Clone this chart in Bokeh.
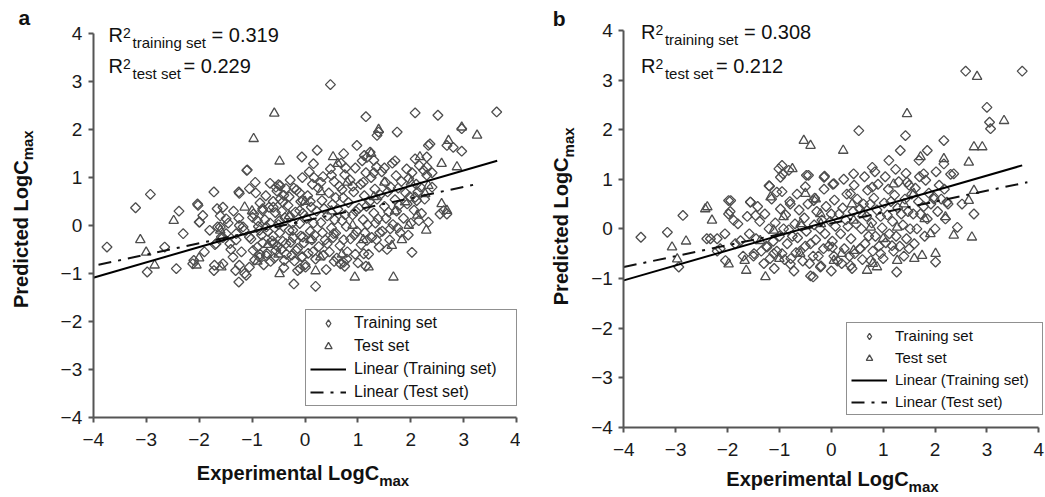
import math
from bokeh.plotting import figure
from bokeh.models import Range1d, Label, Legend, LegendItem
from bokeh.layouts import row
from bokeh.embed import file_html
from bokeh.resources import INLINE

FONT = "Liberation Sans"
ticks = [-4, -3, -2, -1, 0, 1, 2, 3, 4]
tick_labels = ["\u22124", "\u22123", "\u22122", "\u22121", "0", "1", "2", "3", "4"]

series_names = ["Training set", "Test set", "Linear (Training set)", "Linear (Test set)"]
r2_a = ["0.319", "0.229"]
r2_b = ["0.308", "0.212"]

# ---------------- panel a data (experimental, predicted) ----------------
a_train = [
    (-3.74, -0.45), (-3.2, 0.37), (-2.92, 0.65), (-2.98, -0.97), (-2.43, -0.9), (-2.38, 0.3),
    (-2.3, -0.17), (-2.03, 0.45), (-2.0, 0.07), (-2.1, -0.73), (-1.72, 0.7), (-1.66, 0.35),
    (-1.72, -0.94), (-1.6, -0.03), (-1.55, -0.8), (-1.25, 0.7), (-1.31, -0.94), (-1.25, -1.18),
    (-1.1, 1.15), (-0.94, 0.9), (-1.11, -1.04), (-0.47, 0.83), (-0.21, 0.78), (-0.06, 1.43),
    (0.23, 1.57), (0.16, 1.29), (0.48, 2.94), (-0.21, -1.22), (0.2, -1.27), (0.98, 1.67),
    (1.15, 2.27), (1.12, 1.46), (1.39, 1.95), (1.74, 1.95), (2.08, 2.35), (2.51, 2.3),
    (3.62, 2.37), (2.96, 2.02), (2.96, 1.55), (2.02, -0.56), (1.41, -0.15), (1.61, -0.07),
    (2.3, 1.22), (2.68, 0.24), (2.62, 0.31), (2.8, 1.63), (2.36, 1.7), (2.3, 1.43),
    (2.11, 0.52), (2.4, 0.8), (0.79, -0.7), (1.11, -0.59), (1.17, -0.31), (0.42, -0.38),
    (0.67, -0.8), (-0.06, -0.66), (-0.09, -0.9), (0.01, -0.87), (0.54, -0.17),
    (-1.09, 1.16), (-1.05, 0.77), (-1.24, 0.67), (-2.02, 0.42), (-1.93, 0.21), (-1.55, 0.38),
    (-1.99, 0.07), (-2.65, -0.45), (-2.12, -0.8), (-1.68, -0.38), (-1.71, -0.83), (-1.24, -0.83),
    (-1.14, -1.0), (-1.36, -0.66), (-0.98, -0.52), (-0.6, -0.38), (-0.39, -0.73), (-0.14, -0.94),
    (-0.55, 0.8), (-0.36, 0.77), (-0.42, 0.49), (1.36, 1.88), (2.68, 1.67), (2.33, 1.67),
    (0.73, 1.5), (1.23, 1.53), (1.3, 1.36), (2.08, 1.39), (0.73, -0.77), (2.33, 0.07),
    (2.55, 0.24), (2.08, 0.59), (2.24, 1.15), (2.4, 1.1),
    (-0.6, 0.38), (-0.8, 0.31), (-0.99, 0.17), (-1.17, -0.03), (-1.3, -0.17), (-1.49, -0.17),
    (-1.65, -0.03), (-1.58, -0.24), (-1.42, -0.38), (-1.05, -0.24), (-0.86, -0.1), (-0.73, -0.03),
    (-0.48, 0.1), (-0.29, 0.17), (-0.1, 0.31), (-0.04, 0.52), (-0.23, -0.1), (-0.04, -0.24),
    (-0.36, -0.38), (-0.17, -0.52), (-0.73, -0.63), (-0.55, -0.52), (-0.86, -0.66), (-1.05, -0.87),
    (-1.24, 0.0), (-1.49, 0.14),
    (-0.95, -0.72), (-0.9, -0.45), (-1.02, -0.28), (-0.88, -0.02), (-0.97, 0.24), (-0.85, 0.47),
    (-0.93, 0.68), (-0.78, -0.82), (-0.72, -0.58), (-0.8, -0.36), (-0.7, -0.12), (-0.76, 0.12),
    (-0.68, 0.38), (-0.74, 0.62), (-0.66, 0.88), (-0.58, -0.68), (-0.52, -0.44), (-0.6, -0.22),
    (-0.5, 0.02), (-0.56, 0.27), (-0.47, 0.55), (-0.53, 0.72), (-0.4, -0.88), (-0.35, -0.6),
    (-0.42, -0.33), (-0.3, -0.1), (-0.38, 0.16), (-0.32, 0.42), (-0.4, 0.63), (-0.28, 0.95),
    (-0.2, -0.74), (-0.14, -0.48), (-0.22, -0.25), (-0.1, 0.04), (-0.18, 0.28), (-0.08, 0.5),
    (-0.16, 0.74), (-0.05, 1.0), (0.0, -0.82), (0.06, -0.58), (-0.02, -0.36), (0.1, -0.12),
    (0.03, 0.15), (0.12, 0.38), (0.05, 0.62), (0.14, 0.86), (0.08, 1.12), (0.2, -0.7),
    (0.26, -0.44), (0.18, -0.2), (0.3, 0.06), (0.22, 0.3), (0.32, 0.52), (0.25, 0.78),
    (0.34, 1.02), (0.4, -0.92), (0.46, -0.55), (0.38, -0.3), (0.5, -0.05), (0.42, 0.2),
    (0.52, 0.44), (0.45, 0.68), (0.55, 0.92), (0.48, 1.18), (0.6, -0.68), (0.66, -0.42),
    (0.58, -0.16), (0.7, 0.1), (0.62, 0.34), (0.72, 0.58), (0.65, 0.82), (0.75, 1.06),
    (0.68, 1.3), (0.8, -0.55), (0.86, -0.28), (0.78, -0.02), (0.9, 0.22), (0.82, 0.48),
    (0.92, 0.7), (0.85, 0.95), (0.95, 1.2), (1.0, -0.78), (1.06, -0.4), (0.98, -0.12),
    (1.1, 0.12), (1.02, 0.36), (1.12, 0.62), (1.05, 0.86), (1.15, 1.1), (1.08, 1.35),
    (1.2, -0.6), (1.26, -0.25), (1.18, 0.02), (1.3, 0.26), (1.22, 0.5), (1.32, 0.76),
    (1.25, 1.0), (1.35, 1.22), (1.4, -0.45), (1.46, -0.12), (1.38, 0.14), (1.5, 0.4),
    (1.42, 0.64), (1.52, 0.9), (1.45, 1.12), (1.6, -0.3), (1.66, 0.02), (1.58, 0.28),
    (1.7, 0.54), (1.62, 0.8), (1.72, 1.04), (1.65, 1.3), (1.8, -0.15), (1.86, 0.15),
    (1.78, 0.42), (1.9, 0.68), (1.82, 0.92), (1.92, 1.18), (2.0, 0.05), (2.06, 0.32),
    (1.98, 0.6), (2.1, 0.86), (2.02, 1.1), (2.2, 0.25), (2.26, 0.55), (2.18, 0.8), (2.3, 1.05),
    (-1.2, -0.55), (-1.3, -0.3), (-1.15, -0.1), (-1.25, 0.15), (-1.4, -0.5), (-1.45, 0.05),
    (-1.35, 0.3), (-1.55, -0.25), (-1.6, 0.2), (-1.7, -0.4), (-1.8, -0.1), (-1.9, -0.55),
    (-0.85, -0.6), (-0.82, -0.2), (-0.9, 0.1), (-0.8, 0.35), (-0.65, -0.75), (-0.62, -0.32),
    (-0.66, 0.05), (-0.6, 0.5), (-0.45, -0.5), (-0.48, -0.15), (-0.44, 0.3), (-0.5, 0.85),
    (-0.25, -0.62), (-0.27, -0.35), (-0.24, 0.05), (-0.3, 0.6), (-0.05, -0.65), (-0.08, -0.22),
    (-0.04, 0.25), (-0.1, 0.68), (0.15, -0.55), (0.13, -0.3), (0.16, 0.05), (0.1, 0.5),
    (0.17, 1.0), (0.35, -0.62), (0.33, -0.15), (0.36, 0.35), (0.3, 0.9), (0.55, -0.75),
    (0.53, -0.25), (0.56, 0.12), (0.58, 0.58), (0.5, 1.05), (0.75, -0.85), (0.73, -0.3),
    (0.76, 0.22), (0.7, 0.75), (0.77, 1.2), (0.95, -0.6), (0.93, -0.2), (0.96, 0.3),
    (0.9, 0.82), (1.15, -0.85), (1.13, -0.15), (1.16, 0.4), (1.1, 0.9), (1.17, 1.42),
    (1.35, -0.3), (1.33, 0.05), (1.36, 0.55), (1.3, 1.1), (1.55, -0.5), (1.53, 0.15),
    (1.56, 0.7), (1.5, 1.2), (1.75, -0.05), (1.73, 0.3), (1.76, 0.78), (1.7, 1.35),
    (1.95, -0.2), (1.93, 0.45), (1.96, 0.98), (2.15, 0.1), (2.13, 0.7), (2.16, 1.25),
]
a_test = [
    (-3.11, -0.3), (-3.0, -0.56), (-2.84, -0.83), (-2.48, 0.1), (-2.05, -0.83), (-2.0, -0.68),
    (-1.6, -0.1), (-1.58, -0.87), (-0.97, 1.81), (-0.58, 2.34), (-0.48, 1.34), (-0.48, -1.01),
    (0.29, -0.66), (0.53, 1.43), (0.62, 1.29), (0.94, -1.08), (1.2, -0.87), (1.25, 1.5),
    (1.39, 2.0), (1.67, -1.08), (1.64, -0.42), (1.83, -0.3), (1.89, 0.49), (1.96, 0.0),
    (2.12, 0.21), (2.29, -0.1), (2.33, 0.83), (2.58, 1.29), (2.58, 0.45), (2.68, 0.31),
    (2.71, 1.77), (2.87, 1.22), (2.96, 2.05), (3.25, 1.88), (2.17, 1.43), (2.27, 0.66),
    (-1.14, 0.38), (-0.3, 0.2), (0.1, -0.3), (0.5, 0.3), (0.9, 0.0), (1.3, 0.6), (1.7, 0.3),
    (-0.7, -0.4), (0.3, 0.7), (0.7, -0.6), (1.1, -0.3), (1.5, 0.9), (-1.0, 0.3), (0.0, 0.5),
    (0.8, 0.9), (-0.5, -0.6), (2.0, 0.9), (-0.9, -0.75), (0.2, -0.95),
]
a_fit_train_x = [-4.0, 3.63]
a_fit_train_y = [-1.09, 1.35]
a_fit_test_x = [-3.9, 3.27]
a_fit_test_y = [-0.82, 0.87]

# ---------------- panel b data ----------------
b_train = [
    (-3.67, -0.17), (-3.16, -0.07), (-2.86, 0.27), (-2.94, -0.77), (-2.33, -0.2), (-1.98, 0.57),
    (-1.98, 0.3), (-1.88, 0.17), (-2.04, -0.64), (-1.56, 0.54), (-1.46, 0.27), (-1.2, 0.87),
    (-0.98, 1.04), (-0.95, 1.28), (-0.82, 1.18), (-0.48, 1.08), (-0.79, 0.5), (-0.34, 0.57),
    (-0.14, 1.04), (0.05, 0.91), (-0.35, -0.97), (0.53, 1.98), (1.43, 1.88), (2.17, 1.78),
    (2.59, 3.18), (3.68, 3.18), (3.0, 2.45), (3.05, 2.15), (3.07, 2.02), (2.75, 0.3),
    (2.43, 0.03), (2.01, -0.67), (1.26, -0.87), (1.17, -0.34), (1.5, -0.4), (1.85, 1.58),
    (1.69, 1.38), (1.33, 1.58), (1.11, 1.38), (0.79, 1.24), (0.43, 1.11), (1.78, 1.11),
    (2.17, 1.31), (2.36, 1.11), (0.37, 0.71), (0.79, 0.84), (1.46, 0.94), (1.98, 0.64),
    (2.23, 0.54), (2.52, 0.5), (-0.21, -0.77), (0.37, -0.74), (0.95, -0.5), (0.76, -0.64),
    (0.56, -0.4), (0.02, -0.37), (-0.79, -0.71), (-1.11, -0.5), (-1.24, -0.37), (-1.49, -0.5),
    (-1.75, -0.24), (-2.2, -0.2), (-2.14, -0.4), (-1.01, 1.21), (-0.93, 1.11), (-0.44, 1.08),
    (-0.13, 1.06), (-1.19, 0.86), (-1.05, 0.74), (-1.94, 0.57), (-1.56, 0.54),
    (-1.5, -0.55), (-1.45, -0.2), (-1.38, 0.15), (-1.42, 0.45), (-1.3, -0.7), (-1.25, -0.35),
    (-1.2, 0.0), (-1.28, 0.3), (-1.15, 0.6), (-1.1, -0.8), (-1.05, -0.45), (-1.0, -0.15),
    (-1.08, 0.12), (-0.98, 0.4), (-0.95, 0.75), (-0.9, -0.62), (-0.85, -0.3), (-0.82, -0.02),
    (-0.88, 0.28), (-0.8, 0.55), (-0.72, -0.85), (-0.68, -0.48), (-0.65, -0.18), (-0.7, 0.1),
    (-0.62, 0.38), (-0.66, 0.7), (-0.55, -0.65), (-0.5, -0.35), (-0.48, -0.05), (-0.52, 0.22),
    (-0.45, 0.5), (-0.5, 0.85), (-0.4, -0.95), (-0.35, -0.55), (-0.3, -0.22), (-0.33, 0.08),
    (-0.28, 0.35), (-0.32, 0.62), (-0.2, -0.75), (-0.15, -0.4), (-0.12, -0.1), (-0.18, 0.18),
    (-0.1, 0.45), (-0.14, 0.8), (0.0, -0.85), (0.05, -0.55), (0.02, -0.25), (0.08, 0.05),
    (0.0, 0.3), (0.06, 0.58), (0.03, 0.9), (0.2, -0.7), (0.25, -0.4), (0.18, -0.1),
    (0.28, 0.18), (0.22, 0.42), (0.3, 0.7), (0.24, 1.0), (0.4, -0.8), (0.45, -0.5),
    (0.38, -0.2), (0.48, 0.1), (0.42, 0.35), (0.5, 0.6), (0.44, 0.88), (0.6, -0.62),
    (0.65, -0.3), (0.58, 0.0), (0.68, 0.25), (0.62, 0.5), (0.7, 0.78), (0.64, 1.05),
    (0.8, -0.45), (0.85, -0.15), (0.78, 0.12), (0.88, 0.38), (0.82, 0.62), (0.9, 0.9),
    (0.84, 1.15), (1.0, -0.6), (1.05, -0.28), (0.98, 0.02), (1.08, 0.28), (1.02, 0.52),
    (1.1, 0.8), (1.04, 1.05), (1.2, -0.45), (1.25, -0.15), (1.18, 0.15), (1.28, 0.42),
    (1.22, 0.68), (1.3, 0.95), (1.24, 1.2), (1.4, -0.55), (1.45, -0.2), (1.38, 0.08),
    (1.48, 0.35), (1.42, 0.6), (1.5, 0.88), (1.44, 1.12), (1.6, -0.3), (1.65, 0.0),
    (1.58, 0.3), (1.68, 0.55), (1.62, 0.82), (1.7, 1.05), (1.8, -0.15), (1.85, 0.2),
    (1.78, 0.45), (1.88, 0.72), (1.82, 0.98), (2.0, 0.0), (2.05, 0.35), (1.98, 0.6),
    (2.08, 0.88), (2.02, 1.15), (2.2, 0.2), (2.25, 0.5), (2.18, 0.8), (2.3, 1.1),
    (-1.35, -0.45), (-1.18, -0.6), (-1.12, -0.25), (-0.95, -0.5), (-0.92, 0.0), (-0.78, -0.6),
    (-0.75, -0.15), (-0.6, -0.45), (-0.58, 0.05), (-0.42, -0.7), (-0.4, -0.3), (-0.25, -0.55),
    (-0.22, 0.0), (-0.05, -0.35), (-0.02, 0.15), (0.12, -0.65), (0.15, 0.3), (0.35, -0.55),
    (0.32, 0.05), (0.55, -0.4), (0.55, 0.4), (0.72, -0.15), (0.75, 0.5), (0.92, -0.35),
    (0.95, 0.25), (1.12, -0.1), (1.15, 0.55), (1.32, -0.35), (1.35, 0.3), (1.52, 0.0),
    (1.55, 0.7), (1.72, 0.3), (1.92, 0.5), (2.12, 0.6), (-2.4, -0.2), (-2.2, -0.45),
    (-2.05, -0.1), (-1.95, 0.35), (-1.85, -0.3), (-1.8, 0.1), (-1.7, -0.55), (-1.62, 0.25),
    (-1.58, -0.1),
]
b_test = [
    (-3.07, -0.37), (-2.8, -0.25), (-2.97, -0.61), (-2.43, 0.4), (-2.3, 0.17), (-1.98, -0.71),
    (-1.67, -0.64), (-1.64, -0.84), (-1.27, -0.97), (-0.75, 1.21), (-0.53, 1.78), (-0.4, 1.68),
    (-0.5, 0.71), (0.23, 1.58), (1.46, 2.32), (1.72, 1.45), (2.17, 1.41), (2.65, 1.34),
    (2.81, 3.07), (3.33, 2.18), (2.75, 1.65), (2.91, 1.65), (2.75, 0.77), (2.65, 0.57),
    (2.36, -0.13), (2.71, -0.17), (2.2, 0.24), (2.01, -0.5), (1.75, -0.54), (1.27, -0.64),
    (0.88, -0.77), (0.69, -0.84), (0.05, -0.64), (0.43, -0.44), (1.91, -0.1), (1.27, 0.03),
    (0.76, 0.03), (1.59, 0.71), (-0.92, 0.24), (-1.37, -0.24), (-1.11, -0.03), (-0.59, 0.1),
    (-0.21, 0.3), (0.43, 0.17), (-2.39, 0.44), (-1.17, 0.64),
    (-0.6, -0.5), (-0.2, 0.1), (0.2, -0.5), (0.6, 0.3), (1.0, -0.2), (1.4, 0.5), (1.8, 0.2),
    (-1.0, -0.6), (0.4, 0.5), (0.8, -0.7), (1.2, 0.9), (-0.3, 0.6), (1.6, -0.6),
]
b_fit_train_x = [-4.0, 3.68]
b_fit_train_y = [-1.04, 1.28]
b_fit_test_x = [-4.0, 3.78]
b_fit_test_y = [-0.77, 0.94]


def make_panel(letter, train, test, ftx, fty, fsx, fsy, r2, cfg):
    p = figure(width=cfg["w"], height=cfg["h"],
               x_range=Range1d(*cfg["xr"]), y_range=Range1d(*cfg["yr"]),
               toolbar_location=None, output_backend="svg",
               min_border_left=0, min_border_right=0, min_border_top=0, min_border_bottom=0)
    p.outline_line_color = None
    p.xgrid.visible = False
    p.ygrid.visible = False
    p.background_fill_color = "white"
    p.border_fill_color = "white"
    p.xaxis.fixed_location = -4
    p.yaxis.fixed_location = -4
    for ax in (p.xaxis[0], p.yaxis[0]):
        ax.bounds = (-4, 4)
        ax.ticker = ticks
        ax.major_label_overrides = dict(zip(ticks, tick_labels))
        ax.axis_line_color = "#555555"
        ax.axis_line_width = 2
        ax.major_tick_line_color = "#555555"
        ax.major_tick_line_width = 2
        ax.major_tick_out = 5
        ax.major_tick_in = 0
        ax.minor_tick_line_color = None
        ax.major_label_text_font = FONT
        ax.major_label_text_font_size = "19px"
        ax.major_label_text_color = "#1a1a1a"
    p.xaxis.major_label_standoff = 11
    p.yaxis.major_label_standoff = 6

    tx, ty = zip(*train)
    sx, sy = zip(*test)
    mk = dict(fill_alpha=0, line_color="#4d4d4d", line_width=1.3)
    p.scatter(list(tx), list(ty), marker="square", angle=math.pi / 4, size=7, **mk)
    r_te = p.scatter(list(sx), list(sy), marker="triangle", size=9.5, **mk)
    # legend key glyph for the training set (a single undefined point: nothing is plotted)
    k_tr = p.scatter([float("nan")], [float("nan")], marker="diamond", size=9, **mk)
    l_tr = p.line(ftx, fty, line_color="black", line_width=2)
    l_te = p.line(fsx, fsy, line_color="#111111", line_width=2, line_dash="13 7 3 7")

    leg = Legend(items=[LegendItem(label=series_names[0], renderers=[k_tr]),
                        LegendItem(label=series_names[1], renderers=[r_te]),
                        LegendItem(label=series_names[2], renderers=[l_tr]),
                        LegendItem(label=series_names[3], renderers=[l_te])],
                 location=cfg["leg_loc"], glyph_width=36, glyph_height=cfg["gh"],
                 spacing=cfg["sp"], padding=4, margin=0, label_standoff=8,
                 label_width=cfg["lw"], label_height=cfg["gh"],
                 label_text_font=FONT, label_text_font_size=cfg["lfs"],
                 label_text_color="#111111",
                 border_line_color="#222222", border_line_width=1.5,
                 background_fill_color="white", background_fill_alpha=1)
    p.add_layout(leg)

    # R^2 annotations
    x0 = cfg["r2x"]
    eq_off = [103, 75]
    for i, (sub, val) in enumerate(zip(["training set", "test set"], r2)):
        y0 = cfg["r2y"][i]
        p.add_layout(Label(x=x0, y=y0, text="R", text_font=FONT, text_font_size="20px",
                           text_color="#111111"))
        p.add_layout(Label(x=x0, y=y0, x_offset=14.5, y_offset=8, text="2", text_font=FONT,
                           text_font_size="14px", text_color="#111111"))
        p.add_layout(Label(x=x0, y=y0, x_offset=24, y_offset=-5, text=sub, text_font=FONT,
                           text_font_size="15px", text_color="#111111"))
        p.add_layout(Label(x=x0, y=y0, x_offset=eq_off[i], text="= " + val, text_font=FONT,
                           text_font_size="20px", text_color="#111111"))

    # axis titles
    p.add_layout(Label(x=cfg["xl_split"], y=cfg["xl_y"], text="Experimental LogC", text_font=FONT,
                       text_font_size="20px", text_font_style="bold", text_align="right",
                       text_color="#111111"))
    p.add_layout(Label(x=cfg["xl_split"], y=cfg["xl_y"], y_offset=-5, text="max", text_font=FONT,
                       text_font_size="15px", text_font_style="bold", text_align="left",
                       text_color="#111111"))
    p.add_layout(Label(x=cfg["yl_x"], y=cfg["yl_split"], angle=math.pi / 2, text="Predicted LogC",
                       text_font=FONT, text_font_size="20px", text_font_style="bold",
                       text_align="right", text_baseline="middle", text_color="#111111"))
    p.add_layout(Label(x=cfg["yl_x"], y=cfg["yl_split"], x_offset=7, angle=math.pi / 2, text="max",
                       text_font=FONT, text_font_size="15px", text_font_style="bold",
                       text_align="left", text_baseline="middle", text_color="#111111"))
    p.add_layout(Label(x=cfg["let_x"], y=cfg["let_y"], text=letter, text_font=FONT,
                       text_font_size="21px", text_font_style="bold", text_color="#111111"))
    return p


cfg_a = dict(w=520, h=497, xr=(-5.751, 4.07), yr=(-5.676, 4.695),
             leg_loc=(305, 91), gh=18, sp=5, lw=158, lfs="16px",
             r2x=-3.71, r2y=[3.74, 3.09],
             xl_split=1.40, xl_y=-5.39, yl_x=-5.37, yl_split=1.36,
             let_x=-5.41, let_y=4.09)
cfg_b = dict(w=525, h=497, xr=(-5.991, 4.129), yr=(-5.418, 4.605),
             leg_loc=(326, 82), gh=16, sp=5, lw=143, lfs="15px",
             r2x=-3.67, r2y=[3.74, 3.07],
             xl_split=1.49, xl_y=-5.27, yl_x=-5.21, yl_split=1.44,
             let_x=-5.37, let_y=4.0)

pa = make_panel("a", a_train, a_test, a_fit_train_x, a_fit_train_y, a_fit_test_x, a_fit_test_y, r2_a, cfg_a)
pb = make_panel("b", b_train, b_test, b_fit_train_x, b_fit_train_y, b_fit_test_x, b_fit_test_y, r2_b, cfg_b)

layout = row(pa, pb)
open("out.html", "w").write(file_html(layout, INLINE))
